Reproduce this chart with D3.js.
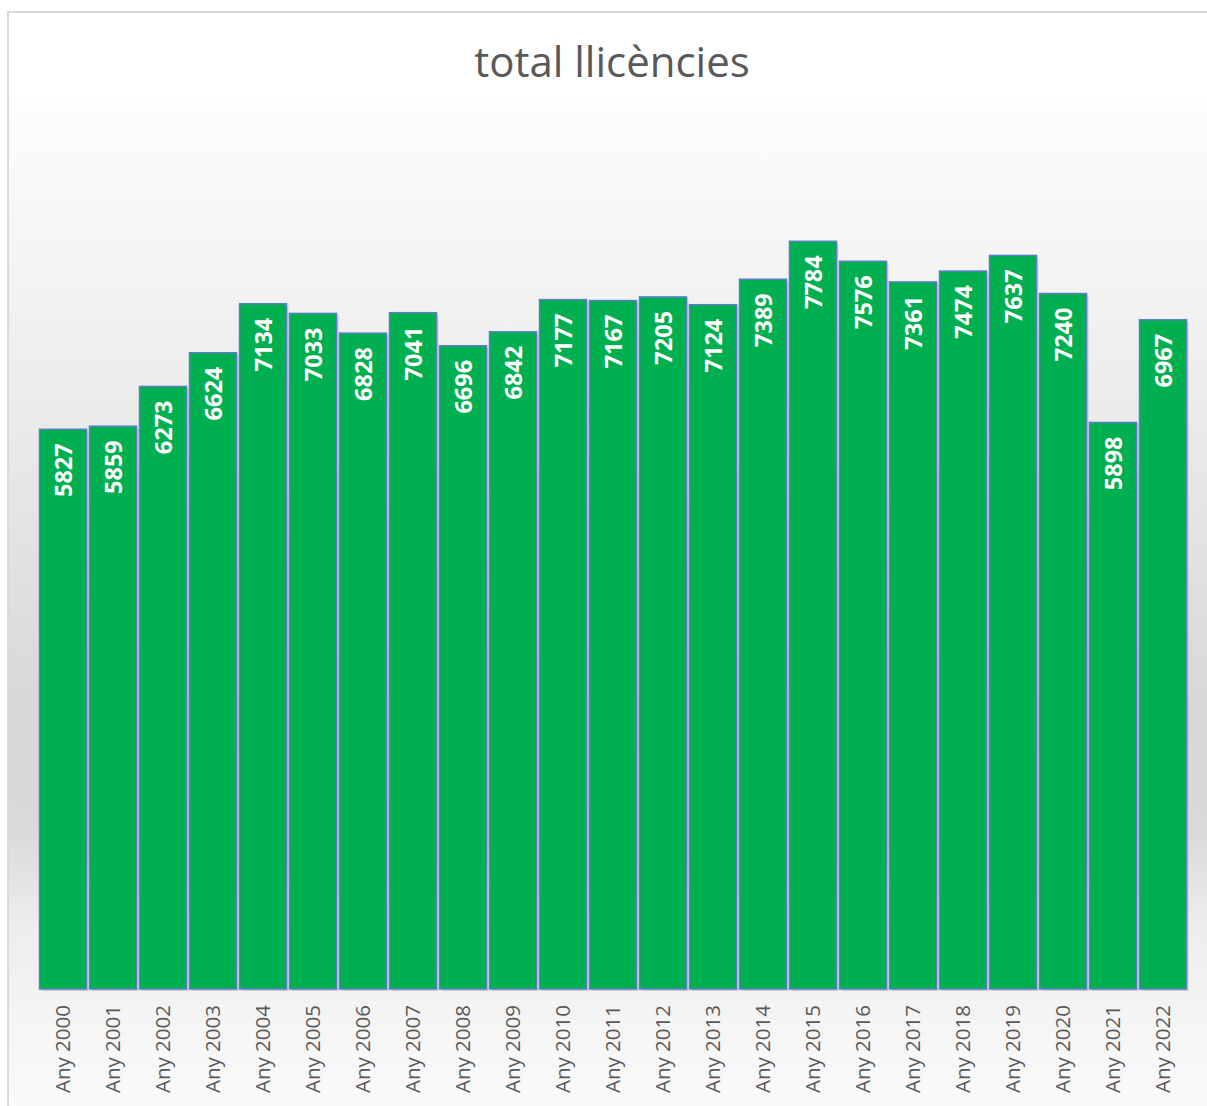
<!DOCTYPE html>
<html>
<head>
<meta charset="utf-8">
<script src="https://cdn.jsdelivr.net/npm/d3@7"></script>
<style>
  html, body { margin: 0; padding: 0; background: #ffffff; overflow: hidden; }
  svg { display: block; }
</style>
</head>
<body>
<script>
const title = "total llicències";
const categories = ["Any 2000","Any 2001","Any 2002","Any 2003","Any 2004","Any 2005","Any 2006","Any 2007","Any 2008","Any 2009","Any 2010","Any 2011","Any 2012","Any 2013","Any 2014","Any 2015","Any 2016","Any 2017","Any 2018","Any 2019","Any 2020","Any 2021","Any 2022"];
const values = [5827,5859,6273,6624,7134,7033,6828,7041,6696,6842,7177,7167,7205,7124,7389,7784,7576,7361,7474,7637,7240,5898,6967];
const yDomain = [0, 9000];

const W = 1207, H = 1106;
const svg = d3.select("body").append("svg").attr("width", W).attr("height", H);
const defs = svg.append("defs");

const grad = defs.append("linearGradient").attr("id", "bg").attr("x1", 0).attr("y1", 0).attr("x2", 0).attr("y2", 1);
[[0, "#fdfdfd"], [0.2, "#f2f2f2"], [0.4, "#e5e5e5"], [0.6, "#d8d8d8"], [0.72, "#d9d9d9"], [0.82, "#ededed"], [0.93, "#f6f6f6"], [1, "#fafafa"]]
  .forEach(([o, c]) => grad.append("stop").attr("offset", o).attr("stop-color", c));

// chart area
svg.append("rect").attr("x", 9).attr("y", 13).attr("width", W).attr("height", H).attr("fill", "#ffffff");
svg.append("rect").attr("x", 9).attr("y", 102).attr("width", W).attr("height", H - 102).attr("fill", "url(#bg)");
svg.append("line").attr("x1", 8).attr("x2", 8).attr("y1", 12).attr("y2", H).attr("stroke", "#d9d9d9").attr("stroke-width", 2);
svg.append("line").attr("x1", 7).attr("x2", W).attr("y1", 12).attr("y2", 12).attr("stroke", "#d9d9d9").attr("stroke-width", 2);

svg.append("text").attr("x", 612).attr("y", 77).attr("text-anchor", "middle")
  .attr("font-family", "'Open Sans', sans-serif").attr("font-size", 42).attr("fill", "#595959").text(title);

const x = d3.scaleBand().domain(categories).range([38, 1188]).paddingInner(0.06).paddingOuter(0.03);
const y = d3.scaleLinear().domain(yDomain).range([989, 124.5]);

const data = categories.map((c, i) => ({ c, v: values[i] }));

// soft shadows
svg.append("g").selectAll("rect").data(data).join("rect")
  .attr("x", d => x(d.c) + 2).attr("y", d => y(d.v) + 2)
  .attr("width", x.bandwidth()).attr("height", d => y(0) - y(d.v))
  .attr("fill", "#8c8c8c").attr("opacity", 0.35);

svg.append("g").selectAll("rect").data(data).join("rect")
  .attr("x", d => x(d.c)).attr("y", d => y(d.v))
  .attr("width", x.bandwidth()).attr("height", d => y(0) - y(d.v))
  .attr("fill", "#00b050").attr("stroke", "#5b7ec8").attr("stroke-width", 1.5);

svg.append("g").selectAll("text").data(data).join("text")
  .attr("transform", d => `translate(${x(d.c) + x.bandwidth() / 2 + 8.5},${y(d.v) + 14}) rotate(-90)`)
  .attr("text-anchor", "end")
  .attr("font-family", "'Open Sans', sans-serif").attr("font-weight", 700).attr("font-size", 23.5)
  .attr("fill", "#ffffff").text(d => d.v);

// x axis labels
const xAxis = d3.axisBottom(x).tickSize(0).tickPadding(0);
const gx = svg.append("g").attr("transform", `translate(0,${y(0)})`).call(xAxis);
gx.select(".domain").remove();
gx.selectAll("text")
  .attr("transform", "translate(7,16) rotate(-90)")
  .attr("x", 0).attr("y", 0).attr("dy", 0)
  .attr("text-anchor", "end")
  .attr("font-family", "'Open Sans', sans-serif").attr("font-size", 20.5)
  .attr("fill", "#595959");
</script>
</body>
</html>
